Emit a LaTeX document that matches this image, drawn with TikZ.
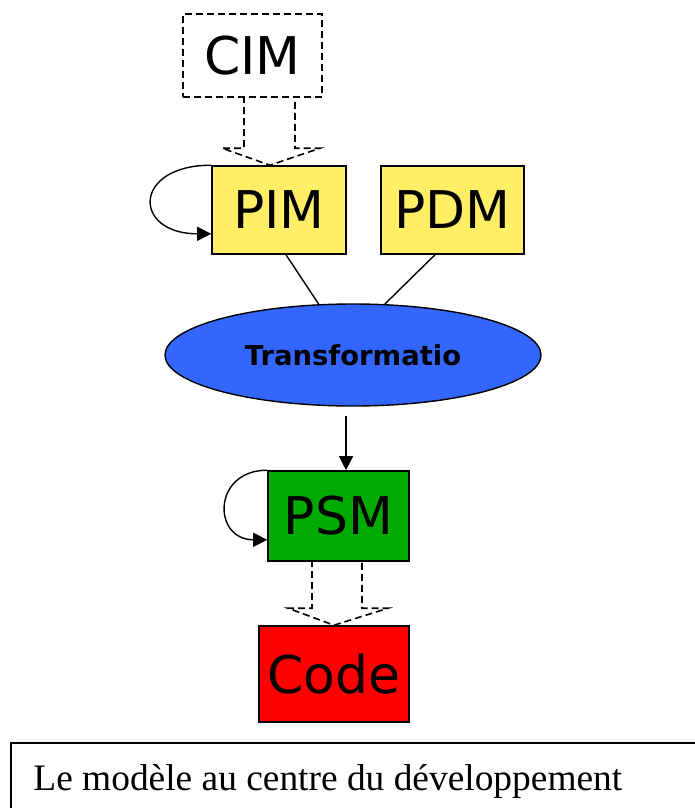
\documentclass[tikz,border=0pt]{standalone}
\usepackage{fontspec}
\setmainfont{Liberation Serif}
\newfontfamily\comicfont{DejaVu Sans}
\usetikzlibrary{shapes.geometric,arrows.meta,calc}
\definecolor{pimyellow}{HTML}{FFEE66}
\definecolor{transblue}{HTML}{3366FF}
\definecolor{psmgreen}{HTML}{00AA00}
\definecolor{codered}{HTML}{FF0000}
\tikzset{
  model/.style = {rectangle, draw=black, line width=0.8pt, inner sep=0pt, font=\comicfont\fontsize{26}{30}\selectfont},
  cimbox/.style = {model, dash pattern=on 3.5pt off 2pt},
  transfo/.style = {ellipse, draw=black, fill=transblue, line width=0.7pt, inner sep=0pt, font=\comicfont\bfseries\fontsize{13.7}{16}\selectfont},
  loopback/.style = {line width=0.7pt, -{Triangle[length=7pt,width=7pt]}},
  hollow/.style = {line width=0.8pt, dash pattern=on 3.5pt off 2pt}
}

\begin{document}
\begin{tikzpicture}[x=0.5pt, y=-0.5pt]
\useasboundingbox (0,0) rectangle (695,808);
% MODELS
\node[cimbox, minimum width=69.5pt, minimum height=41.5pt] (cim) at (252.5,55.5) {CIM};
\node[model, fill=pimyellow, minimum width=67pt, minimum height=44pt] (pim) at (279,210) {PIM};
\node[model, fill=pimyellow, minimum width=71.5pt, minimum height=44pt] (pdm) at (452.5,210) {PDM};
\node[transfo, minimum width=188pt, minimum height=51pt] (trans) at (353,355) {Transformatio};
\node[model, fill=psmgreen, minimum width=70.5pt, minimum height=45pt] (psm) at (338.5,516) {PSM};
\node[model, fill=codered, minimum width=75pt, minimum height=48pt] (code) at (334,674) {Code};
% HOLLOW ARROWS
\coordinate (cimtip) at ($(pim.north)+(-9,0)$);
\draw[hollow] (cimtip) ++(-26,-69) -- ++(0,52) -- ++(-22,0) -- (cimtip)
  -- ++(50,-17) -- ++(-25,0) -- ++(0,-52);
\coordinate (psmtip) at (code.north);
\draw[hollow] (psmtip) ++(-22,-65) -- ++(0,48) -- ++(-24,0) -- (psmtip)
  -- ++(54,-17) -- ++(-26,0) -- ++(0,-48);
% LINKS
\draw[line width=0.7pt] ($(pim.south)+(7,0)$) -- (trans.124);
\draw[line width=0.7pt] ($(pdm.south)+(-17.5,0)$) -- (trans.58);
\draw[loopback] ($(trans.south)+(-7,9)$) -- ($(psm.north)+(7.5,0)$);
% LOOPS
\draw[loopback] (pim.north west) .. controls +(-79,0) and +(-79,0) .. ($(pim.south west)+(0,-21)$);
\draw[loopback] (psm.north west) .. controls +(-55,0) and +(-55,0) .. ($(psm.south west)+(0,-22)$);
% CAPTION
\draw[line width=1pt] (695,743) -- (11,743) -- (11,808);
\node[anchor=base west, inner sep=0pt, font=\fontsize{18.7}{22}\selectfont] (caption) at (33,790) {Le modèle au centre du développement};
\end{tikzpicture}
\end{document}
